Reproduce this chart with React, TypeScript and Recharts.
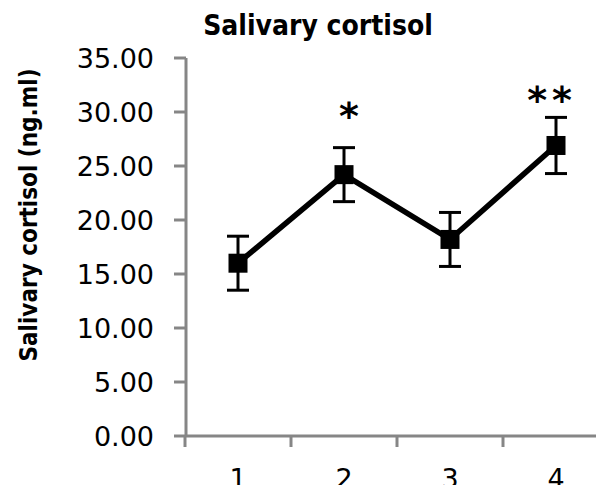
import React from 'react';
import { LineChart, Line, XAxis, YAxis, ErrorBar } from 'recharts';

const categories = ['1', '2', '3', '4'];
const cortisolMean = [16.0, 24.2, 18.2, 26.9];
const cortisolErr = [2.5, 2.5, 2.5, 2.6];
const significance = ['', '*', '', '**'];
const starLevel: (number | null)[] = [null, 30.5, null, 31.9];
const yTicks = [0, 5, 10, 15, 20, 25, 30, 35];

const data = categories.map((c, i) => ({
  cat: c,
  mean: cortisolMean[i],
  err: cortisolErr[i],
  sig: significance[i],
  star: starLevel[i],
}));

const AXIS = '#868686';
const FONT = '"DejaVu Sans", sans-serif';
const FONT_C = '"DejaVu Sans Condensed", "DejaVu Sans", sans-serif';
const HALF_STEP = 53;

const XTick = (props: any) => {
  const { x, y, payload } = props;
  return (
    <g>
      <line x1={x - HALF_STEP} x2={x - HALF_STEP} y1={y} y2={y + 11} stroke={AXIS} strokeWidth={3} />
      <text x={x} y={y + 52} textAnchor="middle" fontFamily={FONT} fontSize={27} fill="#000">
        {payload.value}
      </text>
    </g>
  );
};

const Square = (props: any) => {
  const { cx, cy, index } = props;
  if (cx == null || cy == null) return <g key={`sq-${index}`} />;
  return <rect key={`sq-${index}`} x={cx - 9.5} y={cy - 9.5} width={19} height={19} fill="#000" />;
};

const Star = (props: any) => {
  const { cx, cy, index, payload } = props;
  if (cx == null || cy == null || !payload.sig) return <g key={`st-${index}`} />;
  const multi = payload.sig.length > 1;
  return (
    <text
      key={`st-${index}`}
      x={cx}
      y={cy + 22}
      dx={multi ? -4 : 5}
      textAnchor="middle"
      fontFamily={FONT}
      fontWeight="bold"
      fontSize={38}
      letterSpacing={multi ? 5 : 0}
      fill="#000"
    >
      {payload.sig}
    </text>
  );
};

const YLabel = (props: any) => {
  const vb = props.viewBox || {};
  const cy = vb.y + vb.height / 2 - 32;
  const cx = 37;
  return (
    <text
      x={cx}
      y={cy}
      transform={`rotate(-90, ${cx}, ${cy})`}
      textAnchor="middle"
      fontFamily={FONT_C}
      fontWeight="bold"
      fontSize={24}
      fill="#000"
    >
      Salivary cortisol (ng.ml)
    </text>
  );
};

export default function App() {
  return (
    <div style={{ margin: -8, width: 604, height: 493, overflow: 'hidden', background: '#fff' }}>
      <LineChart
        width={620}
        height={493}
        data={data}
        margin={{ top: 58, right: 10, bottom: 17, left: 0 }}
      >
        <text x={318} y={35} textAnchor="middle" fontFamily={FONT_C} fontWeight="bold" fontSize={28} fill="#000">
          Salivary cortisol
        </text>
        <XAxis
          dataKey="cat"
          height={40}
          padding={{ left: 52, right: 54 }}
          axisLine={{ stroke: AXIS, strokeWidth: 3 }}
          tickLine={false}
          tickSize={0}
          tickMargin={0}
          tick={<XTick />}
          interval={0}
        />
        <YAxis
          width={186}
          domain={[0, 35]}
          ticks={yTicks}
          interval={0}
          tickFormatter={(v: number) => v.toFixed(2)}
          axisLine={{ stroke: AXIS, strokeWidth: 3 }}
          tickLine={{ stroke: AXIS, strokeWidth: 3 }}
          tickSize={12}
          tickMargin={20}
          tick={{ fontFamily: FONT, fontSize: 27, fill: '#000' }}
          label={<YLabel />}
        />
        <Line
          dataKey="mean"
          stroke="#000"
          strokeWidth={5.5}
          dot={Square}
          activeDot={false}
          isAnimationActive={false}
        >
          <ErrorBar dataKey="err" direction="y" width={11} strokeWidth={3} stroke="#000" />
        </Line>
        <Line
          dataKey="star"
          stroke="none"
          dot={Star}
          activeDot={false}
          isAnimationActive={false}
        />
      </LineChart>
    </div>
  );
}
